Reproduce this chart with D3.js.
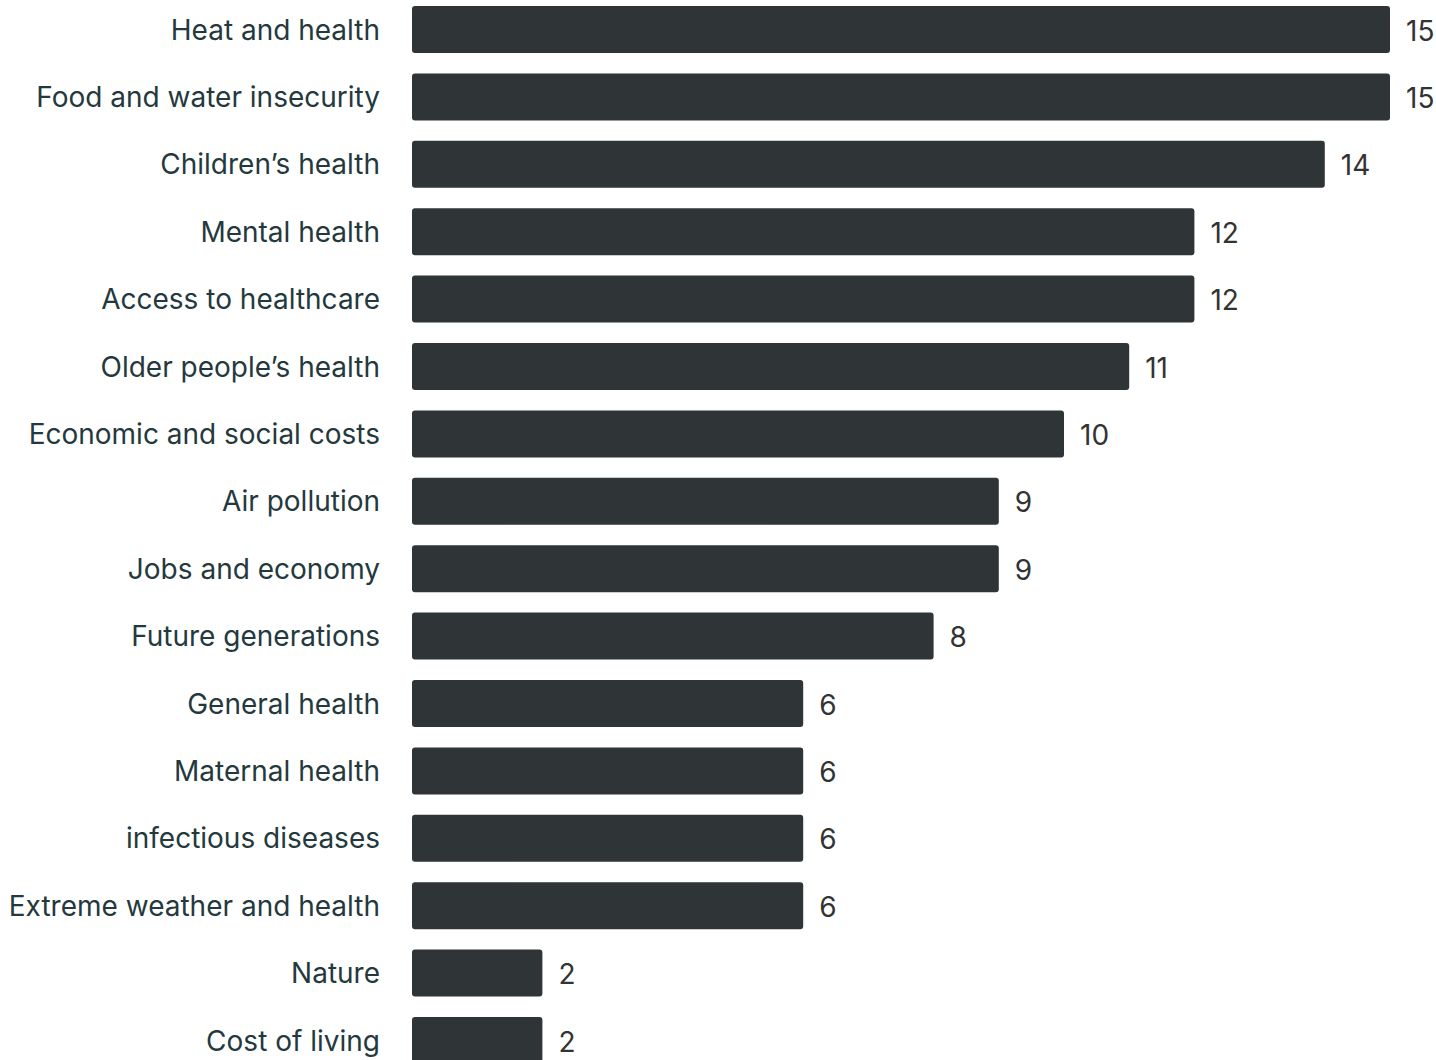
<!DOCTYPE html>
<html>
<head>
<meta charset="utf-8">
<script src="https://cdn.jsdelivr.net/npm/d3@7"></script>
<style>
  html, body { margin: 0; padding: 0; background: #ffffff; }
  svg { display: block; }
</style>
</head>
<body>
<div id="chart"></div>
<script>
const categories = [
  "Heat and health",
  "Food and water insecurity",
  "Children\u2019s health",
  "Mental health",
  "Access to healthcare",
  "Older people\u2019s health",
  "Economic and social costs",
  "Air pollution",
  "Jobs and economy",
  "Future generations",
  "General health",
  "Maternal health",
  "infectious diseases",
  "Extreme weather and health",
  "Nature",
  "Cost of living"
];
const values = [15, 15, 14, 12, 12, 11, 10, 9, 9, 8, 6, 6, 6, 6, 2, 2];

const width = 1436, height = 1060;
const x0 = 412;
const unit = 65.2;
const step = 67.4;
const barH = 47;
const topY = 6;

const svg = d3.select("#chart").append("svg")
  .attr("width", width).attr("height", height);

const x = d3.scaleLinear().domain([0, 15]).range([x0, x0 + 15 * unit]);
const y = d3.scaleBand()
  .domain(categories)
  .range([topY, topY + step * (categories.length - 1) + barH])
  .paddingInner((step - barH) / step)
  .paddingOuter(0);

const rows = svg.append("g").selectAll("g")
  .data(categories.map((c, i) => ({ c, v: values[i] })))
  .join("g");

rows.append("rect")
  .attr("x", x(0))
  .attr("y", d => y(d.c))
  .attr("width", d => x(d.v) - x(0))
  .attr("height", y.bandwidth())
  .attr("rx", 3)
  .attr("fill", "#2f3437");

rows.append("text")
  .attr("x", 380)
  .attr("y", d => y(d.c) + y.bandwidth() / 2)
  .attr("text-anchor", "end")
  .attr("dominant-baseline", "central")
  .attr("font-family", "Inter, sans-serif")
  .attr("font-size", 28)
  .attr("fill", "#24393d")
  .text(d => d.c);

rows.append("text")
  .attr("x", d => x(d.v) + 16)
  .attr("y", d => y(d.c) + y.bandwidth() / 2 + 1)
  .attr("dominant-baseline", "central")
  .attr("font-family", "Inter, sans-serif")
  .attr("font-size", 28)
  .attr("fill", "#333333")
  .text(d => d.v);
</script>
</body>
</html>
